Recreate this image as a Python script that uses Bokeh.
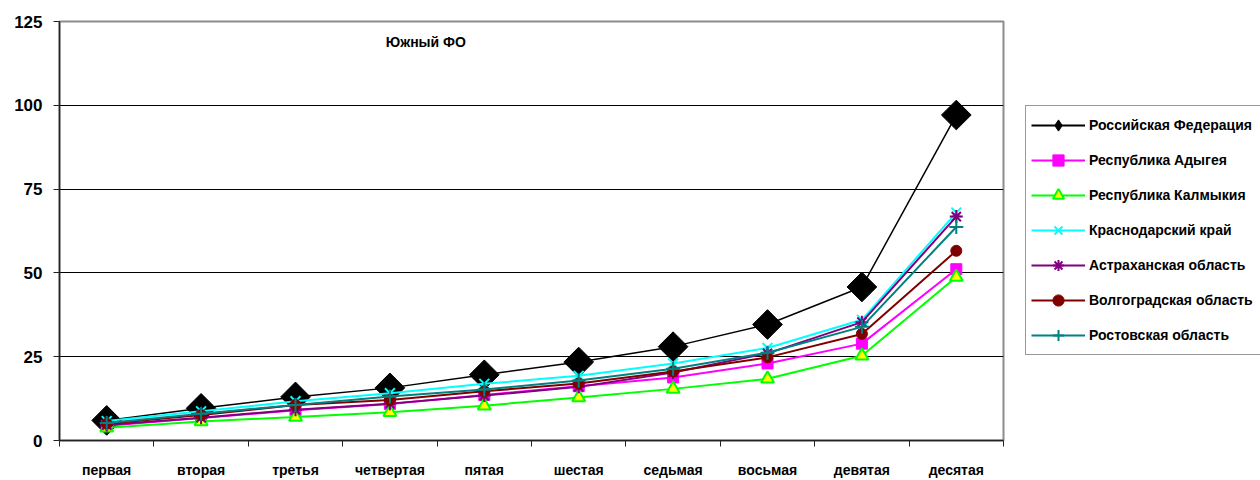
import numpy as np
from bokeh.plotting import figure
from bokeh.layouts import row
from bokeh.models import Range1d, FixedTicker, Legend, LegendItem, Label
from bokeh.embed import file_html
from bokeh.resources import INLINE

categories = ["первая", "вторая", "третья", "четвертая", "пятая",
              "шестая", "седьмая", "восьмая", "девятая", "десятая"]

rf        = [6.0, 9.6, 13.0, 15.7, 19.6, 23.4, 28.0, 34.6, 45.8, 97.1]
adygea    = [4.4, 6.7, 9.0, 10.9, 13.6, 16.2, 18.8, 23.0, 28.9, 51.1]
kalmykia  = [3.8, 5.7, 7.0, 8.4, 10.4, 12.8, 15.4, 18.4, 25.3, 48.8]
krasnodar = [5.8, 8.7, 11.7, 14.1, 16.9, 19.3, 23.0, 27.6, 36.0, 68.0]
astrakhan = [4.6, 6.8, 9.2, 11.0, 13.4, 16.0, 20.3, 26.0, 35.3, 66.8]
volgograd = [5.0, 7.6, 10.6, 12.1, 14.7, 17.0, 20.6, 24.8, 31.8, 56.6]
rostov    = [5.2, 8.0, 10.6, 13.1, 15.2, 17.9, 21.4, 26.2, 33.9, 63.7]

series_names = ["Российская Федерация", "Республика Адыгея", "Республика Калмыкия",
                "Краснодарский край", "Астраханская область", "Волгоградская область",
                "Ростовская область"]
series_values = [rf, adygea, kalmykia, krasnodar, astrakhan, volgograd, rostov]
title_text = "Южный ФО"
y_ticks = [0, 25, 50, 75, 100, 125]

FONT = "Liberation Sans"

x = np.arange(len(categories)) + 0.5

p = figure(width=1005, height=480, output_backend="svg", toolbar_location=None,
           x_range=Range1d(0, len(categories)), y_range=Range1d(0, 125),
           min_border_left=59, min_border_right=2, min_border_top=21,
           min_border_bottom=39)
p.background_fill_color = "white"
p.border_fill_color = "white"
p.outline_line_color = "#8c8c8c"
p.outline_line_width = 2

styles = [
    dict(marker="square", lm="diamond", size=21, angle=np.pi / 4, fill_color="black", line_color="black", lc="black", lw=1.5),
    dict(marker="square", lm="square", size=11, angle=0, fill_color="#ff00ff", line_color="#ff00ff", lc="#ff00ff", lw=2),
    dict(marker="triangle", lm="triangle", size=13, angle=0, fill_color="#ffff00", line_color="#00ff00", lc="#00ff00", lw=2),
    dict(marker="x", lm="x", size=14, angle=0, fill_color=None, line_color="#00ffff", lc="#00ffff", lw=2),
    dict(marker="asterisk", lm="asterisk", size=13, angle=0, fill_color=None, line_color="#800080", lc="#800080", lw=2),
    dict(marker="circle", lm="circle", size=11, angle=0, fill_color="#800000", line_color="#800000", lc="#800000", lw=2),
    dict(marker="cross", lm="cross", size=14, angle=0, fill_color=None, line_color="#008080", lc="#008080", lw=2),
]

# legend figure (to the right of the chart)
p2 = figure(width=255, height=480, output_backend="svg", toolbar_location=None,
            x_range=Range1d(100, 101), y_range=Range1d(1000, 1001),
            min_border_left=0, min_border_right=0, min_border_top=0, min_border_bottom=0)
p2.axis.visible = False
p2.grid.visible = False
p2.outline_line_color = None
p2.background_fill_color = "white"
p2.border_fill_color = "white"

items = []
for name, vals, st in zip(series_names, series_values, styles):
    mlw = 2 if st["marker"] in ("x", "asterisk", "cross", "triangle") else 1
    p.line(x, vals, line_color=st["lc"], line_width=st["lw"])
    p.scatter(x, vals, marker=st["marker"], size=st["size"], angle=st["angle"],
              fill_color=st["fill_color"], line_color=st["line_color"], line_width=mlw)
    l2 = p2.line(x, vals, line_color=st["lc"], line_width=2)
    s2 = p2.scatter(x, vals, marker=st["lm"], size=st["size"],
                    fill_color=st["fill_color"], line_color=st["line_color"], line_width=mlw)
    items.append(LegendItem(label=name, renderers=[l2, s2]))

p.xgrid.visible = False
p.ygrid.ticker = FixedTicker(ticks=y_ticks[1:-1])
p.ygrid.grid_line_color = "#000000"
p.ygrid.grid_line_width = 1

p.yaxis.ticker = FixedTicker(ticks=y_ticks)
p.yaxis.major_tick_out = 6
p.yaxis.major_tick_in = 0
p.yaxis.minor_tick_line_color = None
p.yaxis.major_label_standoff = 11
p.yaxis.major_label_text_font = FONT
p.yaxis.major_label_text_font_style = "bold"
p.yaxis.major_label_text_font_size = "17px"
p.yaxis.major_label_text_color = "black"
p.yaxis.axis_line_color = "#222222"
p.yaxis.axis_line_width = 1.5
p.yaxis.major_tick_line_color = "#222222"

p.xaxis.ticker = FixedTicker(ticks=list(x), minor_ticks=list(range(len(categories) + 1)))
p.xaxis.major_label_overrides = {float(xi): c for xi, c in zip(x, categories)}
p.xaxis.major_tick_out = 0
p.xaxis.major_tick_in = 0
p.xaxis.minor_tick_out = 6
p.xaxis.minor_tick_in = 0
p.xaxis.minor_tick_line_color = "#222222"
p.xaxis.minor_tick_line_width = 1
p.xaxis.major_label_standoff = 15
p.xaxis.major_label_text_line_height = 0.9
p.xaxis.major_label_text_font = FONT
p.xaxis.major_label_text_font_style = "bold"
p.xaxis.major_label_text_font_size = "14px"
p.xaxis.major_label_text_color = "black"
p.xaxis.axis_line_color = "#222222"
p.xaxis.axis_line_width = 1.5

p.add_layout(Label(x=3.88, y=118.8, text=title_text, text_align="center",
                   text_baseline="middle", text_font=FONT, text_font_style="bold",
                   text_font_size="14px", text_color="black"))

legend = Legend(items=items, location=(20, 85))
legend.border_line_color = "#333333"
legend.border_line_width = 1
legend.background_fill_color = "white"
legend.background_fill_alpha = 1
legend.label_text_font = FONT
legend.label_text_font_style = "bold"
legend.label_text_font_size = "14px"
legend.label_text_color = "black"
legend.glyph_width = 54
legend.glyph_height = 28
legend.label_height = 28
legend.label_width = 180
legend.label_standoff = 4
legend.spacing = 7
legend.padding = 5
legend.margin = 0
p2.add_layout(legend)

layout = row(p, p2, spacing=0)
open("out.html", "w").write(file_html(layout, INLINE))
